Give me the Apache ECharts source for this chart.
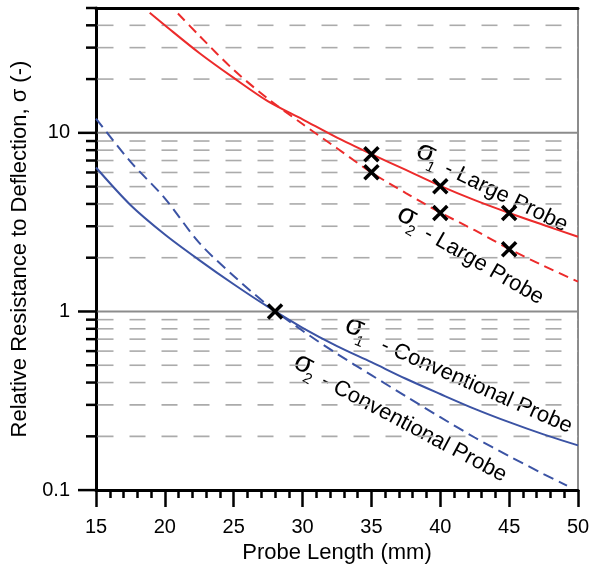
<!DOCTYPE html>
<html>
<head>
<meta charset="utf-8">
<script src="https://cdn.jsdelivr.net/npm/echarts@6/dist/echarts.min.js"></script>
<style>
  html, body { margin: 0; background: #fff; }
  #main { width: 602px; height: 569px; }
</style>
</head>
<body>
<div id="main"></div>
<script>
// values (probe length in mm, sigma relative)
var largeX1 = [18.9, 20, 22.5, 25, 27.5, 30, 32.5, 35, 37.5, 40, 42.5, 45, 47.5, 50];
var largeSigma1 = [47, 40, 28, 20.3, 15.0, 11.9, 9.4, 7.6, 6.2, 5.05, 4.2, 3.56, 3.05, 2.62];
var largeX2 = [20.95, 22.5, 25, 27.5, 30, 32.5, 35, 37.5, 40, 42.5, 45, 47.5, 50];
var largeSigma2 = [46.6, 35, 22.5, 15.5, 11.2, 8.2, 6.0, 4.6, 3.58, 2.85, 2.24, 1.8, 1.47];
var convX1 = [15, 17.5, 20, 22.5, 25, 27.5, 30, 32.5, 35, 37.5, 40, 42.5, 45, 47.5, 50];
var convSigma1 = [6.4, 3.95, 2.7, 1.94, 1.42, 1.06, 0.81, 0.64, 0.52, 0.42, 0.345, 0.285, 0.24, 0.205, 0.178];
var convX2 = [15, 17.5, 20, 22.5, 25, 27.5, 30, 32.5, 35, 37.5, 40, 42.5, 45, 47.5, 49.2];
var convSigma2 = [12, 6.9, 4.3, 2.42, 1.58, 1.08, 0.78, 0.58, 0.44, 0.335, 0.256, 0.197, 0.155, 0.123, 0.106];

// measured points (crosses)
var testX = [28, 35, 35, 40, 40, 45, 45];
var testSigma = [1.0, 7.6, 6.02, 5.02, 3.56, 3.56, 2.23];

// y axis ticks
var yMajor = [1, 10];
var yMinor = [0.2, 0.3, 0.4, 0.5, 0.6, 0.7, 0.8, 0.9, 2, 3, 4, 5, 6, 7, 8, 9, 20, 30, 40];
var xMin = 15, xMax = 50, yMin = 0.1, yMax = 50;

var red = '#ec2b2b';
var blue = '#3b53a4';
var font = 'Liberation Sans, Arial, sans-serif';

function zip(xs, ys) {
  return xs.map(function (x, i) { return [x, ys[i]]; });
}

// kind: 0 minor dashed grid + short tick, 1 major grid + long tick,
// 2 short tick only, 3 long tick only
var gridData = [];
yMinor.forEach(function (v) { gridData.push([xMin, v, 0]); });
yMajor.forEach(function (v) { gridData.push([xMin, v, 1]); });
gridData.push([xMin, yMax, 2]);
gridData.push([xMin, yMin, 3]);

function renderGrid(params, api) {
  var v = api.value(1), kind = api.value(2);
  var a = api.coord([xMin, v]);
  var b = api.coord([xMax, v]);
  var children = [];
  if (kind === 0) {
    children.push({
      type: 'line',
      shape: { x1: a[0] + 1.5, y1: a[1], x2: b[0], y2: b[1] },
      style: { stroke: '#ababab', lineWidth: 1.6, lineDash: [16, 16] }
    });
  } else if (kind === 1) {
    children.push({
      type: 'line',
      shape: { x1: a[0] + 1.5, y1: a[1], x2: b[0], y2: b[1] },
      style: { stroke: '#8c8c8c', lineWidth: 2 }
    });
  }
  var len = (kind === 1 || kind === 3) ? 18 : 10;
  children.push({
    type: 'line',
    shape: { x1: a[0] - len, y1: a[1], x2: a[0], y2: a[1] },
    style: { stroke: '#000', lineWidth: 2.5 }
  });
  return { type: 'group', children: children };
}

var myChart = echarts.init(document.getElementById('main'));

myChart.setOption({
  animation: false,
  backgroundColor: '#fff',
  grid: { left: 96, right: 24, top: 8, bottom: 77 },
  xAxis: [{
    type: 'value',
    min: xMin, max: xMax, interval: 5,
    name: 'Probe Length (mm)',
    nameLocation: 'middle',
    nameGap: 48,
    nameTextStyle: { fontSize: 22, color: '#000', fontFamily: font },
    axisLine: { lineStyle: { color: '#000', width: 3 } },
    axisTick: { length: 17, lineStyle: { color: '#000', width: 2.5 } },
    minorTick: { show: true, splitNumber: 5, length: 8, lineStyle: { color: '#000', width: 2.5 } },
    axisLabel: { fontSize: 20, color: '#000', margin: 27, fontFamily: font },
    splitLine: { show: false }
  }, {
    type: 'value', position: 'top', min: 0, max: 1,
    axisLine: { show: true, lineStyle: { color: '#000', width: 3 } },
    axisTick: { show: false }, axisLabel: { show: false }, splitLine: { show: false }
  }],
  yAxis: [{
    type: 'log', logBase: 10,
    min: yMin, max: yMax,
    name: 'Relative Resistance to Deflection, σ (-)',
    nameLocation: 'middle',
    nameRotate: 90,
    nameGap: 58,
    nameTextStyle: { fontSize: 22, color: '#000', fontFamily: font },
    axisLine: { show: true, lineStyle: { color: '#000', width: 3 } },
    axisTick: { show: false },
    axisLabel: {
      fontSize: 20, color: '#000', margin: 26, fontFamily: font,
      formatter: function (v) {
        var e = Math.log10(v);
        return Math.abs(e - Math.round(e)) < 1e-6 ? String(+v.toPrecision(3)) : '';
      }
    },
    splitLine: { show: false }
  }, {
    type: 'value', position: 'right', min: 0, max: 1,
    axisLine: { show: true, lineStyle: { color: '#8c8c8c', width: 2 } },
    axisTick: { show: false }, axisLabel: { show: false }, splitLine: { show: false }
  }],
  series: [
    {
      type: 'custom', z: 1, silent: true,
      renderItem: renderGrid,
      encode: { x: 0, y: 1 },
      data: gridData
    },
    {
      name: 'σ1 - Large Probe', type: 'line', z: 3, smooth: 0.3, showSymbol: false,
      lineStyle: { color: red, width: 2 },
      data: zip(largeX1, largeSigma1)
    },
    {
      name: 'σ2 - Large Probe', type: 'line', z: 3, smooth: 0.3, showSymbol: false,
      lineStyle: { color: red, width: 2, type: [10, 6] },
      data: zip(largeX2, largeSigma2)
    },
    {
      name: 'σ1 - Conventional Probe', type: 'line', z: 3, smooth: 0.3, showSymbol: false,
      lineStyle: { color: blue, width: 2 },
      data: zip(convX1, convSigma1)
    },
    {
      name: 'σ2 - Conventional Probe', type: 'line', z: 3, smooth: 0.3, showSymbol: false,
      lineStyle: { color: blue, width: 2, type: [11, 6] },
      data: zip(convX2, convSigma2)
    },
    {
      type: 'scatter', z: 4,
      symbol: 'path://M0,0L10,10M10,0L0,10',
      symbolSize: 14,
      itemStyle: { color: '#000', borderColor: '#000', borderWidth: 3.5, opacity: 1 },
      data: zip(testX, testSigma)
    }
  ]
});

// curve annotations, anchored in data space (left edge of the sigma)
var notes = [
  { sub: '1', text: ' - Large Probe', x: 38.38, y: 8.18, angle: 26, gap: 27 },
  { sub: '2', text: ' - Large Probe', x: 37.02, y: 3.64, angle: 30, gap: 27 },
  { sub: '1', text: ' - Conventional Probe', x: 33.18, y: 0.86, angle: 23.8, gap: 35 },
  { sub: '2', text: ' - Conventional Probe', x: 29.51, y: 0.538, angle: 28, gap: 27 }
];

function noteText(str, size, x, y) {
  return {
    type: 'text', x: x, y: y,
    style: { text: str, fontSize: size, fontFamily: font, fill: '#000', align: 'left', verticalAlign: 'middle' }
  };
}

myChart.setOption({
  graphic: notes.map(function (n) {
    var p = myChart.convertToPixel({ seriesIndex: 1 }, [n.x, n.y]);
    return {
      type: 'group', x: p[0], y: p[1], z: 10,
      rotation: -n.angle * Math.PI / 180,
      children: [
        noteText('σ', 29, 0, 0),
        noteText(n.sub, 15, 15, 12),
        noteText(n.text, 22, n.gap, 5)
      ]
    };
  })
});

window.onresize = function () {
  myChart.resize();
};
</script>
</body>
</html>
